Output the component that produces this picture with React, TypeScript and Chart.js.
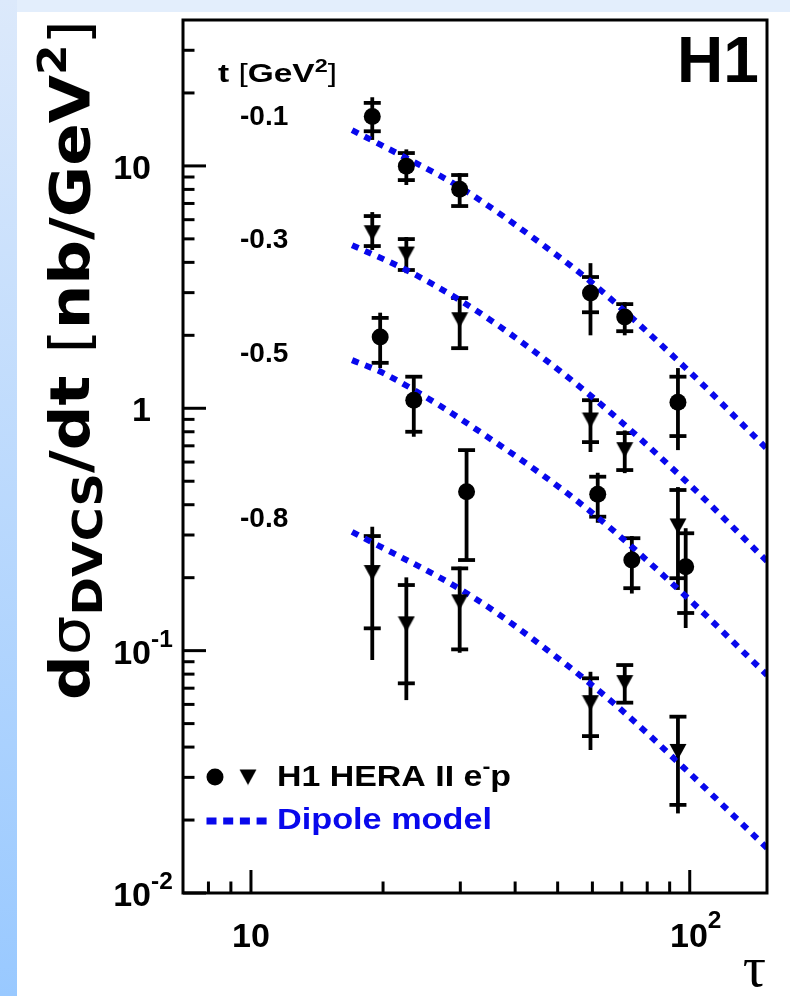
import { useEffect, useRef } from 'react';
import { Chart, registerables } from 'chart.js';

Chart.register(...registerables);

// ---------------- data ----------------
// t = -0.1 GeV^2 (circles)
const T01_TAU = [18.9, 22.6, 29.9, 59.4, 71.1, 94.0];
const T01_VAL = [16.0, 9.98, 8.02, 2.99, 2.38, 1.06];
const T01_STAT_LO = [13.9, 8.74, 6.83, 2.49, 2.08, 0.768];
const T01_STAT_HI = [18.2, 11.3, 9.17, 3.48, 2.69, 1.35];
const T01_TOT_LO = [12.8, 8.34, 6.83, 2.0, 2.0, 0.672];
const T01_TOT_HI = [19.2, 11.7, 9.34, 3.97, 2.74, 1.465];

// t = -0.3 GeV^2 (triangles)
const T03_TAU = [18.9, 22.6, 29.9, 59.4, 71.1, 94.0];
const T03_VAL = [5.3, 4.33, 2.32, 0.895, 0.675, 0.327];
const T03_STAT_LO = [4.67, 3.72, 1.77, 0.725, 0.556, 0.199];
const T03_STAT_HI = [6.21, 4.99, 2.85, 1.08, 0.79, 0.46];
const T03_TOT_LO = [4.5, 3.61, 1.74, 0.66, 0.54, 0.178];
const T03_TOT_HI = [6.45, 5.09, 2.9, 1.134, 0.81, 0.473];

// t = -0.5 GeV^2 (circles)
const T05_TAU = [19.7, 23.5, 31.0, 61.7, 73.8, 97.9];
const T05_VAL = [1.97, 1.08, 0.452, 0.442, 0.2365, 0.222];
const T05_STAT_LO = [1.54, 0.8, 0.2365, 0.357, 0.181, 0.143];
const T05_STAT_HI = [2.36, 1.35, 0.672, 0.522, 0.291, 0.305];
const T05_TOT_LO = [1.465, 0.763, 0.2365, 0.337, 0.172, 0.124];
const T05_TOT_HI = [2.48, 1.37, 0.672, 0.542, 0.297, 0.32];

// t = -0.8 GeV^2 (triangles)
const T08_TAU = [18.9, 22.6, 29.9, 59.4, 71.1, 94.0];
const T08_VAL = [0.21, 0.129, 0.159, 0.061, 0.0738, 0.0384];
const T08_STAT_LO = [0.1236, 0.0733, 0.1012, 0.0444, 0.061, 0.0231];
const T08_STAT_HI = [0.297, 0.1865, 0.2185, 0.0769, 0.0872, 0.0534];
const T08_TOT_LO = [0.0915, 0.0625, 0.098, 0.0389, 0.061, 0.0213];
const T08_TOT_HI = [0.3245, 0.2006, 0.222, 0.0818, 0.0872, 0.0534];

// Dipole model curves
const M01_TAU = [17.0, 22.6, 29.9, 48.7, 60.0, 97.4, 150];
const M01_VAL = [14.05, 10.77, 8.18, 4.41, 3.285, 1.479, 0.68];
const M03_TAU = [17.0, 22.6, 29.9, 38.8, 60.0, 97.4, 150];
const M03_VAL = [4.71, 3.72, 2.795, 2.04, 1.112, 0.5057, 0.234];
const M05_TAU = [17.0, 20.3, 36.3, 60.0, 98.4, 150];
const M05_VAL = [1.58, 1.38, 0.7187, 0.3696, 0.1664, 0.0793];
const M08_TAU = [17.0, 31.96, 51.3, 69.2, 96.4, 150];
const M08_VAL = [0.3093, 0.1669, 0.09, 0.0578, 0.0332, 0.01533];

// axes
const X_MIN = 7;
const X_MAX = 150;
const Y_MIN = 0.01;
const Y_MAX = 40;
const X_MAJOR = [10, 100];
const X_MINOR = [8, 9, 20, 30, 40, 50, 60, 70, 80, 90];
const X_LABEL_BASE = ['10', '10'];
const X_LABEL_EXP = ['', '2'];
const Y_MAJOR = [0.01, 0.1, 1, 10];
const Y_MINOR = [0.02, 0.03, 0.04, 0.05, 0.06, 0.07, 0.08, 0.09, 0.2, 0.3, 0.4, 0.5, 0.6, 0.7, 0.8, 0.9, 2, 3, 4, 5, 6, 7, 8, 9, 20, 30];
const Y_LABEL_BASE = ['10', '10', '1', '10'];
const Y_LABEL_EXP = ['-2', '-1', '', ''];

const T_LABELS = ['-0.1', '-0.3', '-0.5', '-0.8'];

// ---------------- helpers ----------------
const SANS = '"Liberation Sans", Arial, sans-serif';
const WIDE = '"DejaVu Sans", sans-serif';
const SERIF = '"Liberation Serif", "DejaVu Serif", serif';
const BLUE = '#0808ec';

type Seg = { text: string; rel?: number; shift?: number; weight?: string };
type RichOpts = { size: number; family: string; weight?: string; color?: string; align?: 'left' | 'right' | 'center'; width?: number };

function drawRich(ctx: CanvasRenderingContext2D, segs: Seg[], x: number, y: number, o: RichOpts) {
  const weight = o.weight ?? 'bold';
  const fonts = segs.map((s) => `${s.weight ?? weight} ${o.size * (s.rel ?? 1)}px ${o.family}`);
  let natural = 0;
  const widths = segs.map((s, i) => {
    ctx.font = fonts[i];
    const w = ctx.measureText(s.text).width;
    natural += w;
    return w;
  });
  const sx = o.width ? o.width / natural : 1;
  const total = natural * sx;
  const align = o.align ?? 'left';
  const x0 = align === 'left' ? x : align === 'right' ? x - total : x - total / 2;
  ctx.save();
  ctx.translate(x0, y);
  ctx.scale(sx, 1);
  ctx.fillStyle = o.color ?? '#000';
  ctx.textAlign = 'left';
  ctx.textBaseline = 'alphabetic';
  let cx = 0;
  segs.forEach((s, i) => {
    ctx.font = fonts[i];
    ctx.fillText(s.text, cx, (s.shift ?? 0) * o.size);
    cx += widths[i];
  });
  ctx.restore();
}

function makeTriangle(): HTMLCanvasElement {
  const c = document.createElement('canvas');
  c.width = 18;
  c.height = 17;
  const g = c.getContext('2d')!;
  g.fillStyle = '#000';
  g.beginPath();
  g.moveTo(0.5, 1);
  g.lineTo(17.5, 1);
  g.lineTo(9, 16.5);
  g.closePath();
  g.fill();
  return c;
}

export default function App() {
  const ref = useRef<HTMLCanvasElement | null>(null);

  useEffect(() => {
    const canvas = ref.current;
    if (!canvas) return;
    const tri = makeTriangle();

    const groups = [
      { tau: T01_TAU, val: T01_VAL, sLo: T01_STAT_LO, sHi: T01_STAT_HI, tLo: T01_TOT_LO, tHi: T01_TOT_HI, marker: 'circle' },
      { tau: T03_TAU, val: T03_VAL, sLo: T03_STAT_LO, sHi: T03_STAT_HI, tLo: T03_TOT_LO, tHi: T03_TOT_HI, marker: 'triangle' },
      { tau: T05_TAU, val: T05_VAL, sLo: T05_STAT_LO, sHi: T05_STAT_HI, tLo: T05_TOT_LO, tHi: T05_TOT_HI, marker: 'circle' },
      { tau: T08_TAU, val: T08_VAL, sLo: T08_STAT_LO, sHi: T08_STAT_HI, tLo: T08_TOT_LO, tHi: T08_TOT_HI, marker: 'triangle' },
    ];
    const models = [
      { tau: M01_TAU, val: M01_VAL },
      { tau: M03_TAU, val: M03_VAL },
      { tau: M05_TAU, val: M05_VAL },
      { tau: M08_TAU, val: M08_VAL },
    ];

    const pointSets = groups.map((g) => ({
      type: 'line' as const,
      data: g.tau.map((t, i) => ({ x: t, y: g.val[i] })),
      showLine: false,
      pointStyle: g.marker === 'circle' ? ('circle' as const) : (tri as any),
      pointRadius: 8.5,
      pointBackgroundColor: '#000',
      pointBorderColor: '#000',
      pointBorderWidth: 0,
    }));
    const modelSets = models.map((m) => ({
      type: 'line' as const,
      data: m.tau.map((t, i) => ({ x: t, y: m.val[i] })),
      borderColor: BLUE,
      borderWidth: 6,
      borderDash: [7, 7],
      borderCapStyle: 'butt' as const,
      cubicInterpolationMode: 'monotone' as const,
      pointRadius: 0,
      fill: false,
    }));

    const bgPlugin = {
      id: 'bg',
      beforeDraw(chart: any) {
        const ctx = chart.ctx as CanvasRenderingContext2D;
        const w = chart.width;
        const h = chart.height;
        ctx.save();
        ctx.fillStyle = '#ffffff';
        ctx.fillRect(0, 0, w, h);
        ctx.fillStyle = '#e3eefc';
        ctx.fillRect(0, 0, w, 12);
        const g = ctx.createLinearGradient(0, 0, 0, h);
        g.addColorStop(0, '#dce9fb');
        g.addColorStop(1, '#99c9ff');
        ctx.fillStyle = g;
        ctx.fillRect(0, 0, 17, h);
        ctx.restore();
      },
    };

    const errPlugin = {
      id: 'errbars',
      beforeDatasetsDraw(chart: any) {
        const ctx = chart.ctx as CanvasRenderingContext2D;
        const xs = chart.scales.x;
        const ys = chart.scales.y;
        ctx.save();
        ctx.strokeStyle = '#000';
        ctx.lineWidth = 3.8;
        ctx.lineCap = 'butt';
        groups.forEach((g) => {
          g.tau.forEach((t, i) => {
            const px = xs.getPixelForValue(t);
            const yHi = ys.getPixelForValue(g.tHi[i]);
            const yLo = ys.getPixelForValue(g.tLo[i]);
            ctx.beginPath();
            ctx.moveTo(px, yHi);
            ctx.lineTo(px, yLo);
            ctx.stroke();
            [g.sHi[i], g.sLo[i]].forEach((v) => {
              const py = ys.getPixelForValue(v);
              ctx.beginPath();
              ctx.moveTo(px - 8.5, py);
              ctx.lineTo(px + 8.5, py);
              ctx.stroke();
            });
          });
        });
        ctx.restore();
      },
    };

    const framePlugin = {
      id: 'frame',
      afterDraw(chart: any) {
        const ctx = chart.ctx as CanvasRenderingContext2D;
        const a = chart.chartArea;
        const xs = chart.scales.x;
        const ys = chart.scales.y;
        ctx.save();
        ctx.strokeStyle = '#000';
        ctx.lineWidth = 3;
        ctx.strokeRect(a.left, a.top, a.right - a.left, a.bottom - a.top);
        // ticks
        Y_MAJOR.forEach((v) => {
          const py = ys.getPixelForValue(v);
          ctx.beginPath();
          ctx.moveTo(a.left, py);
          ctx.lineTo(a.left + 23, py);
          ctx.stroke();
        });
        Y_MINOR.forEach((v) => {
          const py = ys.getPixelForValue(v);
          ctx.beginPath();
          ctx.moveTo(a.left, py);
          ctx.lineTo(a.left + 11.5, py);
          ctx.stroke();
        });
        X_MAJOR.forEach((v) => {
          const px = xs.getPixelForValue(v);
          ctx.beginPath();
          ctx.moveTo(px, a.bottom);
          ctx.lineTo(px, a.bottom - 23);
          ctx.stroke();
        });
        X_MINOR.forEach((v) => {
          const px = xs.getPixelForValue(v);
          ctx.beginPath();
          ctx.moveTo(px, a.bottom);
          ctx.lineTo(px, a.bottom - 11.5);
          ctx.stroke();
        });
        ctx.restore();

        // tick labels
        const TS = 34;
        Y_MAJOR.forEach((v, i) => {
          const py = ys.getPixelForValue(v);
          ctx.font = `bold ${TS}px ${SANS}`;
          const bw = ctx.measureText(Y_LABEL_BASE[i]).width;
          drawRich(ctx, [{ text: Y_LABEL_BASE[i] }], 151 - bw, py + 13, { size: TS, family: SANS });
          if (Y_LABEL_EXP[i]) {
            drawRich(ctx, [{ text: Y_LABEL_EXP[i], rel: 0.72 }], 151, py - 4, { size: TS, family: SANS });
          }
        });
        X_MAJOR.forEach((v, i) => {
          const px = xs.getPixelForValue(v);
          const segs: Seg[] = [{ text: X_LABEL_BASE[i] }];
          if (X_LABEL_EXP[i]) segs.push({ text: X_LABEL_EXP[i], rel: 0.72, shift: -0.55 });
          drawRich(ctx, segs, px + (X_LABEL_EXP[i] ? 6 : 0), 947, { size: TS, family: SANS, align: 'center' });
        });

        // axis titles
        ctx.save();
        ctx.translate(89, 700);
        ctx.rotate(-Math.PI / 2);
        drawRich(
          ctx,
          [
            { text: 'd' },
            { text: 'σ', weight: 'normal' },
            { text: 'DVCS', rel: 0.74, shift: 0.24 },
            { text: '/dt ' },
            { text: '[', weight: 'normal' },
            { text: 'nb/GeV' },
            { text: '2', rel: 0.7, shift: -0.42 },
            { text: ']', weight: 'normal' },
          ],
          0,
          0,
          { size: 55, family: WIDE, width: 680 }
        );
        ctx.restore();
        drawRich(ctx, [{ text: 'τ' }], 766, 986, { size: 58, family: SERIF, weight: 'normal', align: 'right' });

        // annotations
        drawRich(ctx, [{ text: 'H1' }], 677, 82, { size: 64, family: SANS });
        drawRich(
          ctx,
          [
            { text: 't ' },
            { text: '[', weight: 'normal' },
            { text: 'GeV' },
            { text: '2', rel: 0.7, shift: -0.42 },
            { text: ']', weight: 'normal' },
          ],
          218,
          82,
          { size: 25, family: SANS, width: 119 }
        );
        const tBase = [125, 248, 362, 527];
        T_LABELS.forEach((s, i) => {
          drawRich(ctx, [{ text: s }], 240, tBase[i], { size: 28, family: SANS });
        });

        // legend
        ctx.save();
        ctx.fillStyle = '#000';
        ctx.beginPath();
        ctx.arc(215, 777, 8.5, 0, Math.PI * 2);
        ctx.fill();
        ctx.drawImage(tri, 248 - 9, 777 - 8.5);
        ctx.strokeStyle = BLUE;
        ctx.lineWidth = 7;
        ctx.setLineDash([10, 6.7]);
        ctx.beginPath();
        ctx.moveTo(206.5, 821);
        ctx.lineTo(268, 821);
        ctx.stroke();
        ctx.restore();
        drawRich(
          ctx,
          [{ text: 'H1 HERA II e' }, { text: '-', rel: 0.7, shift: -0.45 }, { text: 'p' }],
          277,
          786,
          { size: 30, family: SANS, width: 234 }
        );
        drawRich(ctx, [{ text: 'Dipole model' }], 277, 829, { size: 30, family: SANS, width: 215, color: BLUE });
      },
    };

    const chart = new Chart(canvas, {
      type: 'line',
      data: { datasets: [...pointSets, ...modelSets] as any },
      options: {
        animation: false,
        responsive: false,
        maintainAspectRatio: false,
        layout: { padding: { left: 183, top: 20, right: 790 - 767, bottom: 996 - 893 } },
        scales: {
          x: { type: 'logarithmic', min: X_MIN, max: X_MAX, display: false },
          y: { type: 'logarithmic', min: Y_MIN, max: Y_MAX, display: false },
        },
        plugins: { legend: { display: false }, tooltip: { enabled: false } },
      },
      plugins: [bgPlugin, errPlugin, framePlugin],
    });
    return () => chart.destroy();
  }, []);

  return (
    <div style={{ position: 'fixed', left: 0, top: 0, width: 790, height: 996 }}>
      <canvas ref={ref} width={790} height={996} style={{ display: 'block', width: 790, height: 996 }} />
    </div>
  );
}
